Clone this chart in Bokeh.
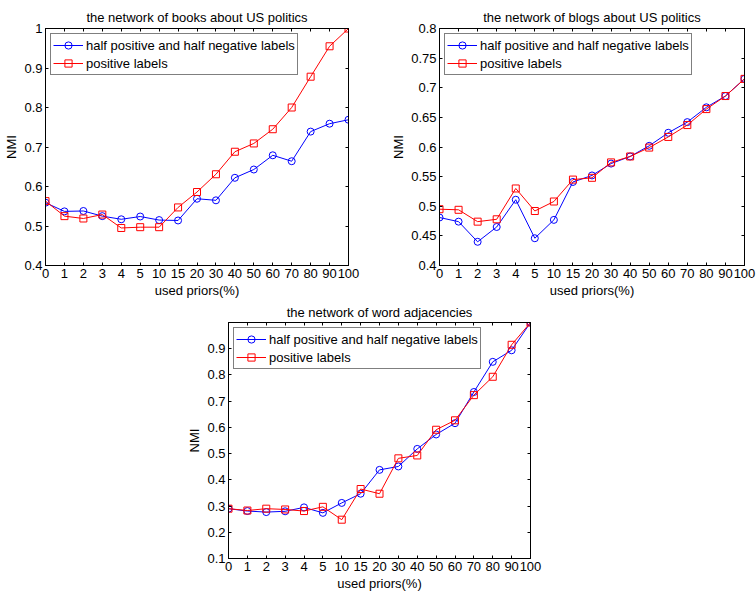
from bokeh.plotting import figure
from bokeh.layouts import column, row
from bokeh.models import Range1d, FixedTicker, LinearAxis, NumeralTickFormatter, Spacer
from bokeh.embed import file_html
from bokeh.resources import INLINE

priors = ["0", "1", "2", "3", "4", "5", "10", "15", "20", "30", "40", "50", "60", "70", "80", "90", "100"]

books_half = [0.559, 0.537, 0.538, 0.525, 0.517, 0.524, 0.515, 0.514, 0.569, 0.565, 0.622, 0.643, 0.679, 0.664, 0.739, 0.759, 0.769]
books_pos = [0.563, 0.525, 0.519, 0.529, 0.495, 0.497, 0.497, 0.547, 0.586, 0.631, 0.688, 0.709, 0.745, 0.800, 0.878, 0.955, 1.000]

blogs_half = [0.481, 0.474, 0.440, 0.465, 0.511, 0.446, 0.477, 0.541, 0.552, 0.572, 0.584, 0.602, 0.624, 0.642, 0.667, 0.686, 0.715]
blogs_pos = [0.495, 0.494, 0.474, 0.478, 0.530, 0.492, 0.508, 0.545, 0.548, 0.574, 0.584, 0.599, 0.617, 0.637, 0.664, 0.686, 0.715]

words_half = [0.290, 0.281, 0.277, 0.280, 0.295, 0.274, 0.312, 0.347, 0.438, 0.451, 0.518, 0.573, 0.616, 0.735, 0.850, 0.894, 1.000]
words_pos = [0.290, 0.283, 0.290, 0.287, 0.281, 0.297, 0.248, 0.365, 0.347, 0.482, 0.493, 0.591, 0.627, 0.723, 0.793, 0.915, 1.000]

books_yticks = [0.4, 0.5, 0.6, 0.7, 0.8, 0.9, 1.0]
blogs_yticks = [0.4, 0.45, 0.5, 0.55, 0.6, 0.65, 0.7, 0.75, 0.8]
words_yticks = [0.1, 0.2, 0.3, 0.4, 0.5, 0.6, 0.7, 0.8, 0.9]

series_names = ["half positive and half negative labels", "positive labels"]
FONT = "Liberation Sans"
FS = "13px"


def style_axis(ax, show_labels):
    ax.axis_line_color = "black"
    ax.axis_line_width = 1
    ax.major_tick_in = 3
    ax.major_tick_out = 0
    ax.major_tick_line_color = "black"
    ax.minor_tick_line_color = None
    ax.major_label_text_font = FONT
    ax.major_label_text_font_size = FS
    if show_labels:
        ax.major_label_text_color = "black"
        ax.major_label_standoff = 3
        ax.axis_label_text_font = FONT
        ax.axis_label_text_font_size = FS
        ax.axis_label_text_font_style = "normal"
        ax.axis_label_text_color = "black"
        ax.axis_label_standoff = 2
    else:
        ax.major_label_text_color = None
        ax.major_label_standoff = 0


def make_plot(title, half, pos, y0, y1, yticks, fw, fh, bl, br, bt, bb, tstand):
    x = list(range(len(priors)))
    p = figure(frame_width=fw, frame_height=fh, output_backend="svg", toolbar_location=None,
               x_range=Range1d(0, len(priors) - 1), y_range=Range1d(y0, y1),
               min_border_left=bl, min_border_right=br, min_border_top=bt, min_border_bottom=bb)
    p.title.text = title
    p.title.align = "center"
    p.title.text_font = FONT
    p.title.text_font_size = FS
    p.title.text_font_style = "normal"
    p.title.text_color = "black"
    p.title.standoff = tstand
    p.grid.visible = False
    p.outline_line_color = "black"
    p.outline_line_width = 1
    p.background_fill_color = "white"
    p.border_fill_color = "white"

    p.xaxis.ticker = FixedTicker(ticks=x)
    p.xaxis.major_label_overrides = {i: lab for i, lab in enumerate(priors)}
    p.xaxis.axis_label = "used priors(%)"
    p.yaxis.ticker = FixedTicker(ticks=yticks)
    p.yaxis.formatter = NumeralTickFormatter(format="0.[00]")
    p.yaxis.axis_label = "NMI"
    style_axis(p.xaxis[0], True)
    style_axis(p.yaxis[0], True)

    top = LinearAxis(ticker=FixedTicker(ticks=x))
    style_axis(top, False)
    p.add_layout(top, "above")
    right = LinearAxis(ticker=FixedTicker(ticks=yticks))
    style_axis(right, False)
    p.add_layout(right, "right")

    p.line(x, half, line_color="#0000ff", line_width=1, legend_label=series_names[0])
    p.scatter(x, half, marker="circle", size=7, fill_color=None, line_color="#0000ff",
              line_width=1, legend_label=series_names[0])
    p.line(x, pos, line_color="#ff0000", line_width=1, legend_label=series_names[1])
    p.scatter(x, pos, marker="square", size=7, fill_color=None, line_color="#ff0000",
              line_width=1, legend_label=series_names[1])

    lg = p.legend[0]
    lg.location = "top_left"
    lg.margin = 5
    lg.padding = 2
    lg.spacing = 0
    lg.label_height = 18
    lg.glyph_height = 18
    lg.glyph_width = 30
    lg.label_standoff = 3
    lg.label_text_font = FONT
    lg.label_text_font_size = FS
    lg.label_text_color = "black"
    lg.border_line_color = "black"
    lg.border_line_width = 1.5
    lg.background_fill_color = "white"
    lg.background_fill_alpha = 1
    return p


p1 = make_plot("the network of books about US politics", books_half, books_pos,
               0.4, 1.0, books_yticks, 303, 237, 45, 40, 28, 33, 8)
p2 = make_plot("the network of blogs about US politics", blogs_half, blogs_pos,
               0.4, 0.8, blogs_yticks, 305, 237, 45, 12, 28, 33, 8)
p3 = make_plot("the network of word adjacencies", words_half, words_pos,
               0.1, 1.0, words_yticks, 302, 236, 45, 12, 20, 33, 5)

layout = column(row(p1, p2, spacing=0), row(Spacer(width=183, height=10), p3, spacing=0), spacing=0)

open("out.html", "w").write(file_html(layout, INLINE))
